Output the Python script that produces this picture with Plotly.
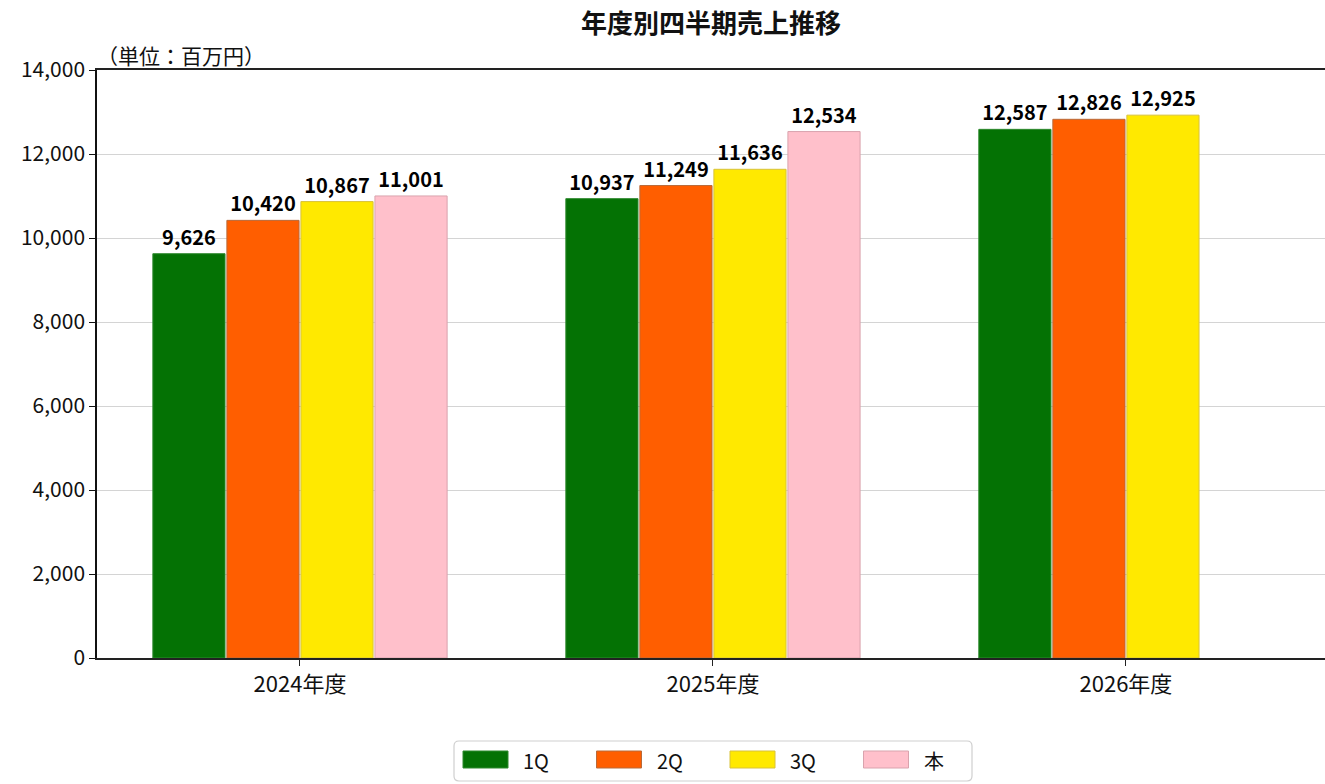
import plotly.graph_objects as go

# データ
years = ["2024年度", "2025年度", "2026年度"]
series_names = ["1Q", "2Q", "3Q", "本"]
q1 = [9626, 10937, 12587]
q2 = [10420, 11249, 12826]
q3 = [10867, 11636, 12925]
q4 = [11001, 12534, None]

fill_colors = ["#047204", "#FF5E00", "#FFE900", "#FFC0CB"]
edge_colors = ["#2f8a2f", "#b86a3a", "#d8c23a", "#d9a3ad"]

FONT = "Noto Sans CJK JP"
W, H = 1325, 784

# プロット領域（ピクセル）: 左97 右1325 上70 下658
PL, PR, PT, PB = 97, 1325, 70, 658


def px(x):
    return (x - PL) / (PR - PL)


def py(y):
    return (PB - y) / (PB - PT)


fig = go.Figure()

for name, vals, fc, ec in zip(series_names, [q1, q2, q3, q4], fill_colors, edge_colors):
    fig.add_trace(go.Bar(
        x=years,
        y=vals,
        name=name,
        marker=dict(color=fc, line=dict(color=ec, width=1)),
        texttemplate="<b>%{y:,}</b>",
        textposition="outside",
        textfont=dict(family=FONT, size=20, color="#000000"),
        cliponaxis=False,
        showlegend=False,
    ))

# 凡例（枠・色見本・ラベル）
shapes = []
annotations = []
bx0, bx1, by0, by1, r = px(454), px(972), py(781), py(741), 5
rx, ry = r / (PR - PL), r / (PB - PT)
shapes.append(dict(
    type="path", xref="paper", yref="paper",
    path=(f"M{bx0 + rx},{by0} L{bx1 - rx},{by0} Q{bx1},{by0} {bx1},{by0 + ry} "
          f"L{bx1},{by1 - ry} Q{bx1},{by1} {bx1 - rx},{by1} "
          f"L{bx0 + rx},{by1} Q{bx0},{by1} {bx0},{by1 - ry} "
          f"L{bx0},{by0 + ry} Q{bx0},{by0} {bx0 + rx},{by0} Z"),
    line=dict(color="#cfcfcf", width=1.2), fillcolor="rgba(0,0,0,0)",
))
for i, (name, fc, ec) in enumerate(zip(series_names, fill_colors, edge_colors)):
    sx = 463 + 133.5 * i
    shapes.append(dict(
        type="rect", xref="paper", yref="paper",
        x0=px(sx), x1=px(sx + 45), y0=py(768), y1=py(751),
        fillcolor=fc, line=dict(color=ec, width=1),
    ))
    annotations.append(dict(
        text=name, xref="paper", yref="paper",
        x=px(sx + 58), y=py(760), xanchor="left", yanchor="middle",
        showarrow=False, font=dict(family=FONT, size=20, color="#111111"),
    ))

annotations.append(dict(
    text="（単位：百万円）",
    xref="paper", yref="paper",
    x=px(95), y=py(55),
    xanchor="left", yanchor="middle",
    showarrow=False,
    font=dict(family=FONT, size=21, color="#111111"),
))

fig.update_layout(
    width=W,
    height=H,
    barmode="group",
    bargap=0.283,
    bargroupgap=0.025,
    plot_bgcolor="#ffffff",
    paper_bgcolor="#ffffff",
    font=dict(family=FONT, color="#111111"),
    margin=dict(l=PL, r=W - PR, t=PT, b=H - PB),
    title=dict(
        text="<b>年度別四半期売上推移</b>",
        x=px(711), xref="paper", xanchor="center",
        y=1 - 24 / H, yanchor="middle", yref="container",
        font=dict(family=FONT, size=26, color="#111111"),
    ),
    xaxis=dict(
        range=[-0.4915, 2.482],
        showline=True, linecolor="#222222", linewidth=1.5, mirror=True,
        ticks="outside", ticklen=6, tickcolor="#222222",
        tickfont=dict(family=FONT, size=22, color="#111111"),
        showgrid=False,
    ),
    yaxis=dict(
        range=[0, 14000],
        dtick=2000,
        tickformat=",",
        showline=True, linecolor="#111111", linewidth=1.5,
        ticks="outside", ticklen=6, tickcolor="#111111",
        tickfont=dict(family=FONT, size=21, color="#111111"),
        showgrid=True, gridcolor="#d4d4d4", gridwidth=1,
        zeroline=False,
    ),
    shapes=shapes,
    annotations=annotations,
)

# ページ余白をなくして図を左上に合わせる
fig.write_html("out.html", config={"displayModeBar": False},
               post_script="document.body.style.margin='0';")
